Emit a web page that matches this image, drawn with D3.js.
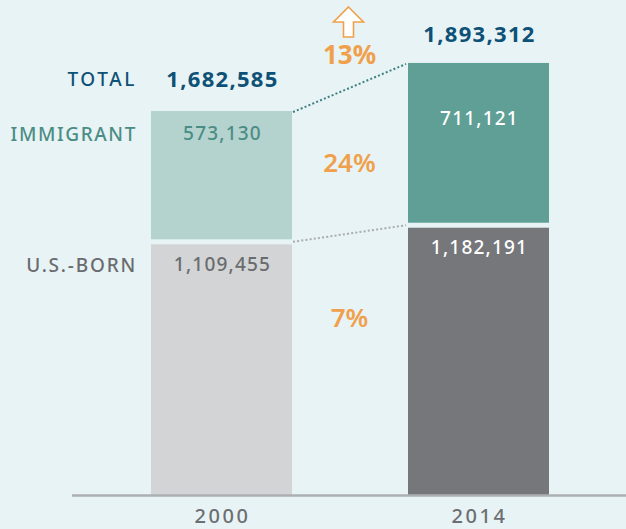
<!DOCTYPE html>
<html>
<head>
<meta charset="utf-8">
<script src="https://cdn.jsdelivr.net/npm/d3@7"></script>
<style>
  html, body { margin: 0; padding: 0; background: #e8f3f5; }
  svg { display: block; font-family: "Noto Sans", "Open Sans", sans-serif; }
</style>
</head>
<body>
<script>
// data
const years = ["2000", "2014"];
const usBorn = [1109455, 1182191];
const immigrant = [573130, 711121];
const rowLabels = ["TOTAL", "IMMIGRANT", "U.S.-BORN"];

const width = 626, height = 529;
const svg = d3.select("body").append("svg").attr("width", width).attr("height", height);

const totals = years.map((y, i) => usBorn[i] + immigrant[i]);

const x = d3.scaleBand().domain(years).range([151, 549]).paddingInner(0.4514).paddingOuter(0);
const y = d3.scaleLinear().domain([0, 2000000]).range([495, 38.6]);
const pct = d3.format(".0%");
const num = d3.format(",");

const colors = {
  usBorn: ["#d3d4d6", "#76777b"],
  immigrant: ["#b5d3ce", "#5f9f95"]
};
const gap = 2.5;

// bars
years.forEach((yr, i) => {
  const x0 = x(yr), bw = x.bandwidth();
  const mid = y(usBorn[i]);
  svg.append("rect")
    .attr("x", x0).attr("y", mid + gap)
    .attr("width", bw).attr("height", y(0) - mid - gap)
    .attr("fill", colors.usBorn[i]);
  svg.append("rect")
    .attr("x", x0).attr("y", y(totals[i]))
    .attr("width", bw).attr("height", mid - gap - y(totals[i]))
    .attr("fill", colors.immigrant[i]);
});

// dotted connectors
const xr = x(years[0]) + x.bandwidth() + 1, xl = x(years[1]) - 2;
svg.append("line")
  .attr("x1", xr).attr("y1", y(totals[0]) + 1)
  .attr("x2", xl).attr("y2", y(totals[1]) + 1)
  .attr("stroke", "#3e8080").attr("stroke-width", 2).attr("stroke-dasharray", "2,2.2");
svg.append("line")
  .attr("x1", xr).attr("y1", y(usBorn[0]))
  .attr("x2", xl).attr("y2", y(usBorn[1]))
  .attr("stroke", "#a9acae").attr("stroke-width", 2).attr("stroke-dasharray", "2,2.2");

// axis line
svg.append("line")
  .attr("x1", 72).attr("x2", width)
  .attr("y1", 495.5).attr("y2", 495.5)
  .attr("stroke", "#adb0b2").attr("stroke-width", 2.5);

// year labels
svg.selectAll(".year")
  .data(years)
  .enter().append("text")
  .attr("class", "year")
  .attr("x", d => x(d) + x.bandwidth() / 2 + 1)
  .attr("y", 523)
  .attr("text-anchor", "middle")
  .style("font-size", "20px")
  .style("font-weight", 500)
  .style("letter-spacing", "2.6px")
  .style("fill", "#6d6e71")
  .text(d => d);

// row labels
const rowY = [86, 141, 272];
const rowColor = ["#0e5176", "#4b8d84", "#6a6b6e"];
const rowSpacing = ["2.6px", "1.6px", "1.8px"];
svg.selectAll(".row")
  .data(rowLabels)
  .enter().append("text")
  .attr("class", "row")
  .attr("x", 137)
  .attr("y", (d, i) => rowY[i])
  .attr("text-anchor", "end")
  .style("font-size", "19px")
  .style("font-weight", 500)
  .style("letter-spacing", (d, i) => rowSpacing[i])
  .style("fill", (d, i) => rowColor[i])
  .text(d => d);

// totals above bars
svg.selectAll(".total")
  .data(totals)
  .enter().append("text")
  .attr("class", "total")
  .attr("x", (d, i) => x(years[i]) + x.bandwidth() / 2 + 1)
  .attr("y", (d, i) => i === 0 ? 87 : 42)
  .attr("text-anchor", "middle")
  .style("font-size", "22px")
  .style("font-weight", 700)
  .style("letter-spacing", "1.3px")
  .style("fill", "#0e5176")
  .text(d => num(d));

// values inside bars
const immOffset = [29, 62];
const immColor = ["#4b8d84", "#ffffff"];
svg.selectAll(".imm")
  .data(immigrant)
  .enter().append("text")
  .attr("x", (d, i) => x(years[i]) + x.bandwidth() / 2 + 1)
  .attr("y", (d, i) => y(totals[i]) + immOffset[i])
  .attr("text-anchor", "middle")
  .style("font-size", "19px")
  .style("font-weight", 500)
  .style("letter-spacing", "1.2px")
  .style("fill", (d, i) => immColor[i])
  .text(d => num(d));

const usColor = ["#6a6b6e", "#ffffff"];
svg.selectAll(".us")
  .data(usBorn)
  .enter().append("text")
  .attr("x", (d, i) => x(years[i]) + x.bandwidth() / 2 + 1)
  .attr("y", (d, i) => y(d) + 29)
  .attr("text-anchor", "middle")
  .style("font-size", "19px")
  .style("font-weight", 500)
  .style("letter-spacing", "1.2px")
  .style("fill", (d, i) => usColor[i])
  .text(d => num(d));

// percent changes
const cx = (xr + xl) / 2;
const changes = [
  {v: totals[1] / totals[0] - 1, y: 64, w: 700},
  {v: immigrant[1] / immigrant[0] - 1, y: 172, w: 600},
  {v: usBorn[1] / usBorn[0] - 1, y: 327, w: 600}
];
svg.selectAll(".pct")
  .data(changes)
  .enter().append("text")
  .attr("x", cx)
  .attr("y", d => d.y)
  .attr("text-anchor", "middle")
  .style("font-size", "26px")
  .style("font-weight", d => d.w)
  .style("fill", "#f0a04b")
  .text(d => pct(d.v));

// up arrow
const ax = cx - 1;
const arrow = `M${ax},7 L${ax + 15},22 L${ax + 5},22 L${ax + 5},37 L${ax - 5},37 L${ax - 5},22 L${ax - 15},22 Z`;
svg.append("path")
  .attr("d", arrow)
  .attr("fill", "#ffffff")
  .attr("stroke", "#f0a04b")
  .attr("stroke-width", 1.6)
  .attr("stroke-linejoin", "miter");
</script>
</body>
</html>
